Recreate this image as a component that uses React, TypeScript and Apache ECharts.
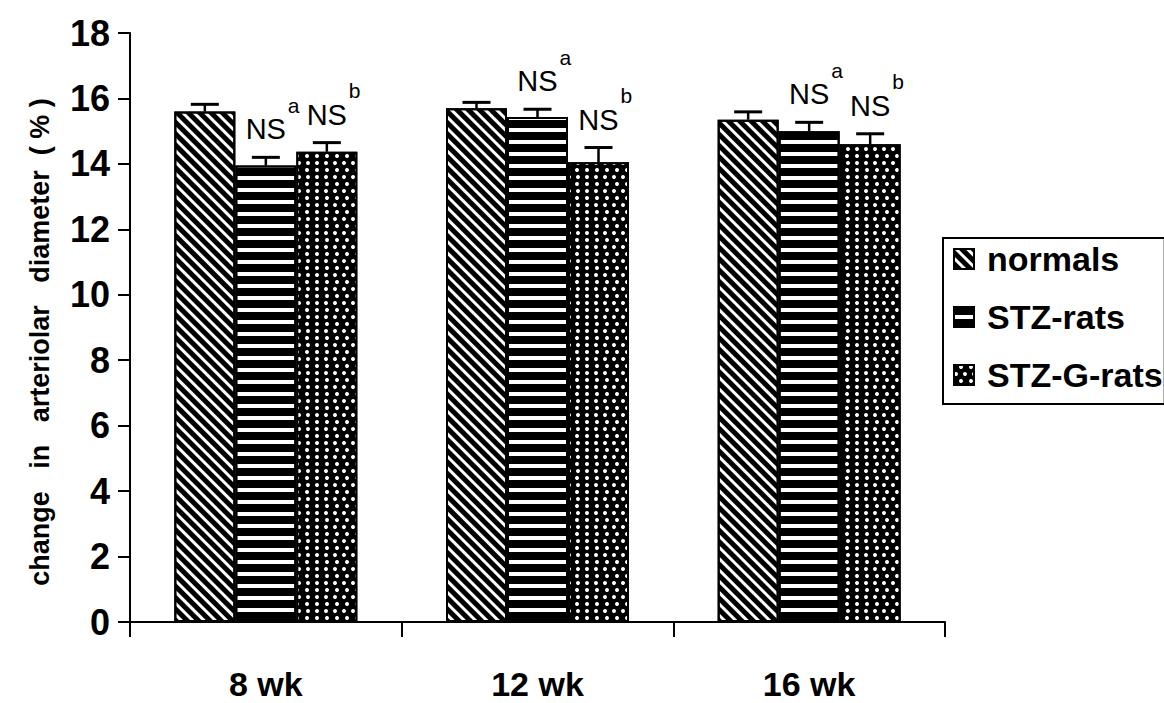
import React, { useEffect, useRef } from "react";
import * as echarts from "echarts";

const categories = ["8 wk", "12 wk", "16 wk"];
const seriesNames = ["normals", "STZ-rats", "STZ-G-rats"];
const normals = [15.6, 15.7, 15.35];
const normalsErr = [0.22, 0.18, 0.24];
const stzRats = [13.95, 15.43, 15.0];
const stzRatsErr = [0.25, 0.24, 0.27];
const stzGRats = [14.37, 14.05, 14.6];
const stzGRatsErr = [0.28, 0.45, 0.32];
const stzNotes = ["a", "a", "a"];
const stzGNotes = ["b", "b", "b"];
const noteText = "NS";
const yMin = 0;
const yMax = 18;
const yInterval = 2;
const yTitle = "change   in   arteriolar   diameter  ( % )";

const FONT = "'Liberation Sans', Arial, Helvetica, sans-serif";
const BAR_W = 61;

const decals = [
  {
    symbol: "rect",
    symbolSize: 1,
    color: "#000",
    backgroundColor: "#fff",
    dashArrayX: [1, 0],
    dashArrayY: [4.5, 3],
    rotation: Math.PI / 4,
  },
  {
    symbol: "rect",
    symbolSize: 1,
    color: "#000",
    backgroundColor: "#fff",
    dashArrayX: [1, 0],
    dashArrayY: [7.5, 3.5],
    rotation: 0,
  },
  {
    symbol: "circle",
    symbolSize: 1,
    color: "#fff",
    backgroundColor: "#000",
    dashArrayX: [
      [4, 5],
      [0, 4.5, 4, 0.5],
    ],
    dashArrayY: [4, 3],
    rotation: 0,
  },
];

function barSeries(name: string, values: number[], idx: number) {
  return {
    type: "bar",
    name,
    data: values,
    barWidth: BAR_W,
    barGap: "0%",
    itemStyle: {
      color: idx === 2 ? "#000" : "#fff",
      borderColor: "#000",
      borderWidth: 2,
      decal: decals[idx],
    },
    emphasis: { disabled: true },
    z: 2,
  };
}

function errSeries(
  name: string,
  values: number[],
  errs: number[],
  groupIndex: number,
  notes: string[] | null
) {
  return {
    type: "custom",
    name: name + " error",
    data: values.map((v, i) => [i, v, errs[i]]),
    encode: { x: 0, y: 1 },
    z: 10,
    silent: true,
    renderItem: (params: any, api: any) => {
      const i = api.value(0);
      const v = api.value(1);
      const e = api.value(2);
      const base = api.coord([i, v]);
      const top = api.coord([i, v + e]);
      const x = base[0] + (groupIndex - 1) * BAR_W;
      const children: any[] = [
        {
          type: "line",
          shape: { x1: x, y1: base[1], x2: x, y2: top[1] },
          style: { stroke: "#000", lineWidth: 2.5 },
        },
        {
          type: "line",
          shape: { x1: x - 14, y1: top[1], x2: x + 14, y2: top[1] },
          style: { stroke: "#000", lineWidth: 3 },
        },
      ];
      if (notes) {
        children.push({
          type: "text",
          style: {
            text: noteText,
            x: x,
            y: top[1] - 28,
            align: "center",
            verticalAlign: "middle",
            fontFamily: FONT,
            fontSize: 29,
            fill: "#000",
          },
        });
        children.push({
          type: "text",
          style: {
            text: notes[params.dataIndex],
            x: x + 22,
            y: top[1] - 52,
            align: "left",
            verticalAlign: "middle",
            fontFamily: FONT,
            fontSize: 21,
            fill: "#000",
          },
        });
      }
      return { type: "group", children };
    },
  };
}

export default function App() {
  const ref = useRef<HTMLDivElement>(null);
  useEffect(() => {
    if (!ref.current) return;
    const chart = echarts.init(ref.current, null, { renderer: "svg" });
    chart.setOption({
      animation: false,
      backgroundColor: "#fff",
      grid: { left: 130, right: 219, top: 33, bottom: 81, containLabel: false },
      legend: {
        data: seriesNames,
        orient: "vertical",
        left: 943,
        top: 238,
        padding: [4, 2, 12, 10],
        itemWidth: 20,
        itemHeight: 20,
        itemGap: 24,
        icon: "rect",
        borderColor: "#000",
        borderWidth: 2,
        selectedMode: false,
        textStyle: {
          fontFamily: FONT,
          fontSize: 34,
          fontWeight: "bold",
          color: "#000",
          padding: [0, 0, 0, 8],
        },
      },
      xAxis: {
        type: "category",
        data: categories,
        axisLine: { show: true, lineStyle: { color: "#000", width: 2 } },
        axisTick: { show: true, length: 15, interval: 0, lineStyle: { color: "#000", width: 2 } },
        axisLabel: {
          margin: 45,
          fontFamily: FONT,
          fontSize: 34,
          fontWeight: "bold",
          color: "#000",
        },
        splitLine: { show: false },
      },
      yAxis: {
        type: "value",
        min: yMin,
        max: yMax,
        interval: yInterval,
        axisLine: { show: true, lineStyle: { color: "#000", width: 2 } },
        axisTick: { show: true, length: 12, lineStyle: { color: "#000", width: 2 } },
        axisLabel: {
          margin: 20,
          fontFamily: FONT,
          fontSize: 36,
          fontWeight: "bold",
          color: "#000",
        },
        splitLine: { show: false },
      },
      graphic: [
        {
          type: "text",
          x: 40,
          y: 342,
          rotation: Math.PI / 2,
          style: {
            text: yTitle,
            align: "center",
            verticalAlign: "middle",
            fontFamily: FONT,
            fontSize: 27,
            fontWeight: "bold",
            fill: "#000",
          },
        },
      ],
      series: [
        barSeries(seriesNames[0], normals, 0),
        barSeries(seriesNames[1], stzRats, 1),
        barSeries(seriesNames[2], stzGRats, 2),
        errSeries(seriesNames[0], normals, normalsErr, 0, null),
        errSeries(seriesNames[1], stzRats, stzRatsErr, 1, stzNotes),
        errSeries(seriesNames[2], stzGRats, stzGRatsErr, 2, stzGNotes),
      ],
    });
    return () => chart.dispose();
  }, []);
  return (
    <div
      ref={ref}
      style={{ position: "fixed", left: 0, top: 0, width: 1164, height: 703, background: "#fff" }}
    />
  );
}
